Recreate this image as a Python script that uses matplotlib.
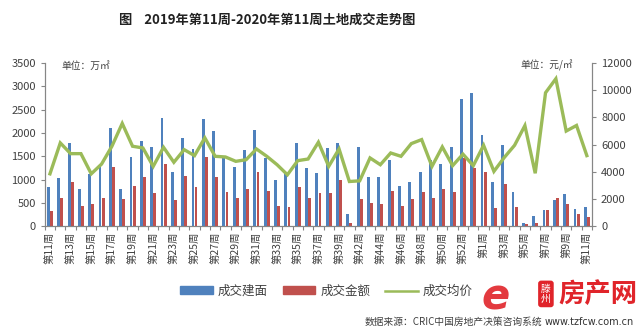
import matplotlib.pyplot as plt
import matplotlib.patches as mpatches
import matplotlib.lines as mlines
import numpy as np

plt.rcParams['font.family'] = ['Noto Sans CJK SC', 'DejaVu Sans']

# week labels: 2019 wk11 .. 2020 wk11
weeks = (['第%d周' % w for w in range(11, 40)] + ['第41周'] +
         ['第%d周' % w for w in range(42, 53)] + ['第53周'] +
         ['第%d周' % w for w in range(1, 12)])

# 成交建面 (万㎡)
area = [846, 1025, 1778, 789, 1119, 1312, 2115, 789, 1477, 1835,
        1706, 2316, 1169, 1886, 1656, 2294, 2043, 1480, 1276, 1635,
        2065, 1455, 989, 1169, 1778, 1240, 1147, 1685, 1778, 251,
        1706, 1047, 1061, 1420, 860, 939, 1169, 1416, 1344, 1702,
        2720, 2850, 1952, 937, 1752, 736, 72, 222, 343, 560,
        686, 358, 401]

# 成交金额 (亿元)
amount = [323, 610, 940, 430, 466, 610, 1276, 588, 868, 1047,
          703, 1326, 560, 1075, 846, 1477, 1047, 738, 610, 789,
          1169, 760, 430, 400, 846, 610, 703, 703, 989, 72,
          580, 502, 480, 760, 430, 580, 739, 612, 788, 738,
          1453, 1240, 1165, 379, 894, 415, 36, 72, 343, 610,
          480, 258, 201]

# 成交均价 (元/㎡)
price = [3850, 6125, 5335, 5335, 3850, 4570, 5880, 7560, 5880, 5755,
         4400, 5800, 4700, 5630, 5190, 6500, 5140, 5090, 4770, 4890,
         5680, 5140, 4520, 3780, 4820, 4940, 6175, 4400, 5680, 3285,
         3335, 5020, 4520, 5385, 5140, 6075, 6370, 4400, 5830, 4450,
         5300, 4450, 5950, 4030, 5050, 5950, 7400, 3890, 9820, 10850,
         7000, 7410, 5190]

BLUE = '#4F81BD'
RED = '#C0504D'
GREEN = '#9BBB59'
AXC = '#868686'
TXT = '#404040'

fig = plt.figure(figsize=(6.4, 3.34), dpi=100)
ax = fig.add_axes([0.070, 0.323, 0.855, 0.488])
ax2 = ax.twinx()

x = np.arange(len(weeks))
w = 0.28
ax.bar(x - 0.15, area, width=w, color=BLUE, zorder=2)
ax.bar(x + 0.15, amount, width=w, color=RED, zorder=2)
ax2.plot(x, price, color=GREEN, lw=2.4, solid_joinstyle='miter')

ax.set_xlim(-0.5, len(weeks) - 0.5)
ax.set_ylim(0, 3500)
ax.set_yticks(np.arange(0, 3501, 500))
ax2.set_ylim(0, 12000)
ax2.set_yticks(np.arange(0, 12001, 2000))

ax.set_xticks(x[::2])
ax.set_xticklabels(weeks[::2], rotation=90, fontsize=7.5, color=TXT)
ax.set_xticks(np.arange(-0.5, len(weeks), 1), minor=True)
ax.tick_params(axis='x', which='major', length=0, pad=4)
ax.tick_params(axis='x', which='minor', length=3, color=AXC, width=0.8)
ax.tick_params(axis='y', length=3, color=AXC, width=0.8, labelsize=8,
               labelcolor=TXT)
ax2.tick_params(axis='y', length=3, color=AXC, width=0.8, labelsize=8,
                labelcolor=TXT)

for a in (ax, ax2):
    a.spines['top'].set_visible(False)
    for s in ('left', 'right', 'bottom'):
        a.spines[s].set_color(AXC)
        a.spines[s].set_linewidth(0.8)

ax.text(0.03, 0.985, '单位：万㎡', transform=ax.transAxes, fontsize=7,
        color=TXT, va='center', ha='left')
ax2.text(0.965, 0.985, '单位：元/㎡', transform=ax2.transAxes, fontsize=7,
         color=TXT, va='center', ha='right')

fig.text(0.417, 0.94, '图    2019年第11周-2020年第11周土地成交走势图',
         ha='center', va='center', fontsize=9.5, fontweight='bold',
         color='#222222')

handles = [mpatches.Patch(color=BLUE, label='成交建面'),
           mpatches.Patch(color=RED, label='成交金额'),
           mlines.Line2D([], [], color=GREEN, lw=1.8, label='成交均价')]
fig.legend(handles=handles, loc='center', bbox_to_anchor=(0.51, 0.128),
           ncol=3, frameon=False, fontsize=9, handlelength=2.6,
           handleheight=0.6, columnspacing=1.2, handletextpad=0.4,
           labelcolor=TXT)

fig.text(0.57, 0.035, '数据来源：CRIC中国房地产决策咨询系统', fontsize=7,
         color=TXT, ha='left', va='center')

# site watermark
fig.text(0.775, 0.11, 'e', fontsize=30, color='#E0242A', style='italic',
         fontweight='bold', ha='center', va='center', alpha=0.9,
         family='DejaVu Sans')
fig.text(0.853, 0.12, '滕\n州', fontsize=7, color='white', ha='center',
         va='center', linespacing=1.1,
         bbox=dict(boxstyle='round,pad=0.3', fc='#E0242A', ec='none'))
fig.text(0.872, 0.118, '房产网', fontsize=19, color='#E0242A',
         fontweight='bold', ha='left', va='center')
fig.text(0.99, 0.035, 'www.tzfcw.com.cn', fontsize=7, color='#333333',
         ha='right', va='center', family='DejaVu Sans')

fig.savefig('out.png', dpi=100)
